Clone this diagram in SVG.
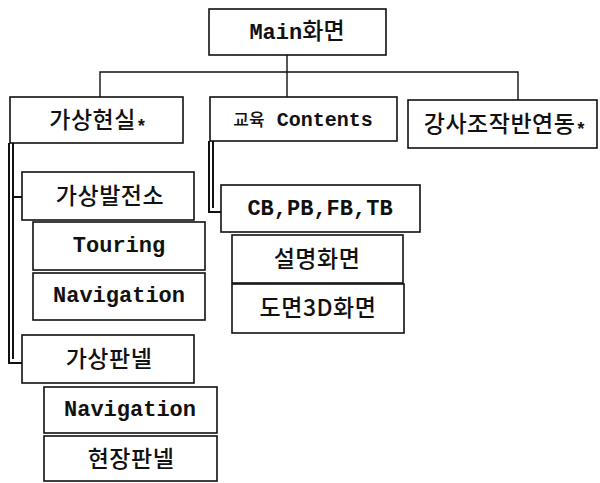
<svg xmlns="http://www.w3.org/2000/svg" width="600" height="483" viewBox="0 0 600 483">
<style>
.box{fill:#fff;stroke:#111;stroke-width:1.6}
.ln{fill:none;stroke:#111;stroke-width:1.4}
.dbl{fill:none;stroke:#111;stroke-width:2}
.mono{font-family:"Liberation Mono","DejaVu Sans Mono",monospace;font-weight:bold;font-size:22px;fill:#111}
.ko{font-family:"Noto Sans CJK KR","Noto Sans",sans-serif;font-size:23px;font-weight:500;letter-spacing:0.5px;fill:#111}
.star{font-family:"Liberation Mono",monospace;font-weight:bold;font-size:18px;fill:#111}
text{text-anchor:middle}
</style>
<rect width="600" height="483" fill="#fff"/>
<g id="connectors">
<path class="ln" d="M287 55V97M100 97V72H518V100"/>
<path class="dbl" d="M9 143V363H22M13 143V359M13 197H22"/>
<path class="dbl" d="M209 141V212H221M213 141V208"/>
</g>
<g id="main"><rect class="box" x="209" y="9" width="177" height="46"/>
<text x="297" y="39"><tspan class="mono">Main</tspan><tspan class="ko" style="letter-spacing:0">화면</tspan></text></g>
<g id="vr"><rect class="box" x="10" y="97" width="173" height="46"/>
<text x="98" y="128"><tspan class="ko">가상현실</tspan><tspan class="star" dy="4">*</tspan></text></g>
<g id="edu"><rect class="box" x="210" y="97" width="187" height="44"/>
<text x="303" y="126"><tspan class="ko" style="font-size:17px;letter-spacing:0">교육</tspan><tspan class="mono" style="font-size:20px"> Contents</tspan></text></g>
<g id="inst"><rect class="box" x="408" y="100" width="189" height="48"/>
<text x="505" y="132"><tspan class="ko">강사조작반연동</tspan><tspan class="star" dy="3">*</tspan></text></g>
<g id="plant"><rect class="box" x="22" y="172" width="172" height="48"/>
<text class="ko" x="110" y="204">가상발전소</text></g>
<g id="touring"><rect class="box" x="33" y="222" width="172" height="48"/>
<text class="mono" x="119" y="252">Touring</text></g>
<g id="nav1"><rect class="box" x="33" y="273" width="172" height="47"/>
<text class="mono" x="119" y="302">Navigation</text></g>
<g id="panel"><rect class="box" x="22" y="335" width="172" height="48"/>
<text class="ko" x="109" y="367">가상판넬</text></g>
<g id="nav2"><rect class="box" x="44" y="387" width="173" height="46"/>
<text class="mono" x="130" y="416">Navigation</text></g>
<g id="field"><rect class="box" x="44" y="436" width="173" height="45"/>
<text class="ko" x="131" y="467">현장판넬</text></g>
<g id="cb"><rect class="box" x="221" y="185" width="199" height="47"/>
<text class="mono" x="320" y="215">CB,PB,FB,TB</text></g>
<g id="desc"><rect class="box" x="232" y="235" width="171" height="48"/>
<text class="ko" x="317" y="267">설명화면</text></g>
<g id="drawing"><rect class="box" x="232" y="284" width="172" height="49"/>
<text class="ko" x="318" y="316">도면3D화면</text></g>
</svg>
